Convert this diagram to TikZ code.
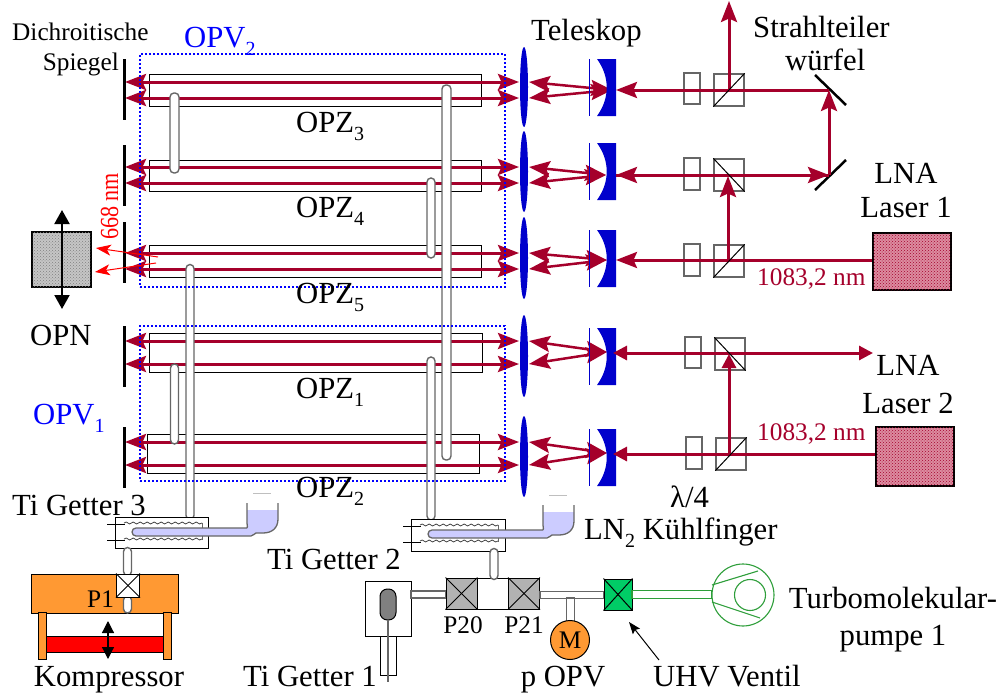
\documentclass[tikz,border=0pt]{standalone}
\usepackage{fontspec}
\setmainfont{Liberation Serif}
\usetikzlibrary{arrows.meta,decorations.pathmorphing,patterns,shapes.geometric}
\definecolor{beamred}{HTML}{A5002B}
\definecolor{optblue}{HTML}{0000CC}
\definecolor{dotblue}{HTML}{0000FF}
\definecolor{orng}{HTML}{FF9933}
\definecolor{lav}{HTML}{CCCCFF}
\definecolor{valvegreen}{HTML}{00CC66}
\definecolor{pumpgreen}{HTML}{2E9E3A}
\definecolor{valvegrey}{HTML}{B2B2B2}
\definecolor{wallgrey}{HTML}{666666}
\definecolor{laserfill}{HTML}{DC8CA0}
\newcommand{\fbig}{\fontsize{30.7}{34}\selectfont}
\newcommand{\fmid}{\fontsize{25.3}{28}\selectfont}
\newcommand{\lowsub}[1]{\raisebox{-0.27em}{\fontsize{20}{20}\selectfont #1}}
\tikzset{
  lbl/.style={inner sep=0pt,anchor=base,font=\fbig},
  lbll/.style={inner sep=0pt,anchor=base west,font=\fbig},
  lblm/.style={inner sep=0pt,anchor=base,font=\fmid},
  tube/.style={draw=black,line width=1pt,fill=white,inner sep=0pt},
  beam/.style={draw=beamred,line width=3pt},
  beamthin/.style={draw=beamred,line width=2.5pt},
  tipa/.style={-{Stealth[length=21pt,width=16pt,inset=3.5pt,color=beamred]}},
  tipb/.style={{Stealth[length=21pt,width=16pt,inset=3.5pt,color=beamred]}-{Stealth[length=21pt,width=16pt,inset=3.5pt,color=beamred]}},
  tric/.style={-{Triangle[length=14pt,width=14pt,color=beamred]}},
  pipe/.style={draw=wallgrey,line width=1.4pt,fill=white,inner sep=0pt,rounded corners=4pt},
  dotted box/.style={draw=dotblue,line width=2pt,dash pattern=on 2pt off 2pt},
  plate/.style={draw=wallgrey,line width=1.3pt,fill=white,inner sep=0pt},
  cube/.style={draw=wallgrey,line width=1.3pt,fill=white,inner sep=0pt},
  diag/.style={draw=black,line width=1pt},
  valve/.style={draw=black,line width=1pt,inner sep=0pt},
  smirror/.style={draw=black,line width=3pt},
  laser/.style={draw=black,line width=2.5pt,fill=laserfill,inner sep=0pt,postaction={pattern=crosshatch dots,pattern color=beamred}},
}
\begin{document}
\begin{tikzpicture}[x=1pt,y=-1pt]
\useasboundingbox (0,0) rectangle (1002,696);
% tubes and beams, rows
\foreach \r/\xl/\xr/\yt/\yb/\ba/\bb/\fx/\fy/\mta/\mtb/\ly/\lh/\my in {
 A/149/481/74/106/82/98/612/90/59/120/87/80/59,
 B/149/481/160/191/167/183/606/175/145/206/171.5/81/143,
 C/149/481/245/277/253/269/607/260/222/283/258/82/230,
 D/149/482/333/372/341/364/607/352/326/387/356/82/328,
 E/147/479/434/473/442/465/607/453/427/488/456.5/81/429}{
  \pgfmathsetmacro{\cx}{(\xl+\xr)/2}
  \pgfmathsetmacro{\cy}{(\yt+\yb)/2}
  \pgfmathsetmacro{\tw}{\xr-\xl}
  \pgfmathsetmacro{\th}{\yb-\yt}
  \node[tube,minimum width=\tw pt,minimum height=\th pt] (tube\r) at (\cx,\cy) {};
  \coordinate (ma\r) at (125,\ba);
  \coordinate (mb\r) at (125,\bb);
  \coordinate (la\r) at (519,\ba);
  \coordinate (lb\r) at (519,\bb);
  \coordinate (ra\r) at (529,\ba);
  \coordinate (rb\r) at (529,\bb);
  \coordinate (foc\r) at (\fx,\fy);
  \draw[beam,tipb] (ma\r) -- (la\r);
  \draw[beam,tipb] (mb\r) -- (lb\r);
  \draw[beamthin,tipb] (ra\r) -- (foc\r);
  \draw[beamthin,tipb] (rb\r) -- (foc\r);
  \coordinate (mt\r) at (124,\mta);
  \coordinate (mbm\r) at (124,\mtb);
  \draw[draw=black,line width=3pt] (mt\r) -- (mbm\r);
  \node[ellipse,fill=optblue,inner sep=0pt,minimum width=8pt,minimum height=\lh pt] (lens\r) at (524,\ly) {};
  \pgfmathsetmacro{\mya}{\my+18}
  \pgfmathsetmacro{\mye}{\my+39}
  \pgfmathsetmacro{\myc}{\my+57}
  \fill[optblue] (597,\my) .. controls (610,\mya) and (610,\mye) .. (597,\myc) -- (616,\myc) -- (616,\my) -- cycle;
  \coordinate (tl\r) at (589,\my);
  \coordinate (tm\r) at (589,\myc);
  \draw[optblue,line width=0.9pt] (tl\r) -- (tm\r);
}
% plates and cubes
\node[plate,minimum width=16pt,minimum height=31pt] (qA) at (692,88.5) {};
\node[plate,minimum width=16pt,minimum height=32pt] (qB) at (692,174) {};
\node[plate,minimum width=16pt,minimum height=32pt] (qC) at (692,260) {};
\node[plate,minimum width=16pt,minimum height=31pt] (qD) at (693,352.5) {};
\node[plate,minimum width=16pt,minimum height=32pt] (qE) at (694,453) {};
\node[cube,minimum width=30pt,minimum height=32pt] (cA) at (729,90) {};
\node[cube,minimum width=30pt,minimum height=32pt] (cB) at (729,175) {};
\node[cube,minimum width=30pt,minimum height=32pt] (cC) at (729,261) {};
\node[cube,minimum width=30pt,minimum height=32pt] (cD) at (730,354) {};
\node[cube,minimum width=30pt,minimum height=32pt] (cE) at (731,454) {};
% lasers
\node[laser,minimum width=78pt,minimum height=57pt] (las1) at (912,261.5) {};
\node[laser,minimum width=78pt,minimum height=59pt] (las2) at (915,456.5) {};
% steering mirrors
\coordinate (sm1a) at (815,75); \coordinate (sm1b) at (846,105);
\coordinate (sm2a) at (815,190); \coordinate (sm2b) at (846,160);
\draw[smirror,line width=2.5pt] (sm1a) -- (sm1b);
\draw[smirror,line width=2.5pt] (sm2a) -- (sm2b);
\coordinate (h1) at (829,90); \coordinate (h2) at (829,175);
\coordinate (out) at (729,1);
\coordinate (t1) at (616,90); \coordinate (t2) at (616,175); \coordinate (t3) at (616,260);
\coordinate (t4) at (613,353); \coordinate (t5) at (613,454);
\coordinate (bs2) at (728,176); \coordinate (bs3) at (728,260);
\coordinate (bs4) at (729,354); \coordinate (bs5) at (729,454);
\coordinate (r4) at (873,353);
% beams through optics
\draw[beam,tipa] (h1) -- (t1);
\draw[beam,tipa] (h2) -- (t2);
\draw[beam,tipa] (las1.west|-t3) -- (t3);
\draw[beam,tric] (bs5-|las2.west) -- (t5);
\draw[beam,{Triangle[length=14pt,width=14pt,color=beamred]}-{Triangle[length=14pt,width=14pt,color=beamred]}] (t4) -- (r4);
\draw[beam,tipa] (t2) -- (h2);
\draw[beam,tipa] (h2) -- (h1);
\draw[beam,tipa] (cA.center|-h1) -- (out);
\draw[beam,tipa] (bs3) -- (bs2);
\draw[beam,tric] (bs5) -- (bs4);
% cube diagonals
\draw[diag] (cA.south west) -- (cA.north east);
\draw[diag] (cB.north west) -- (cB.south east);
\draw[diag] (cC.south west) -- (cC.north east);
\draw[diag] (cD.north west) -- (cD.south east);
\draw[diag] (cE.south west) -- (cE.north east);
% OPN block
\node[draw=black,line width=1.6pt,fill=gray!45,inner sep=0pt,minimum width=59pt,minimum height=55pt,postaction={pattern=crosshatch dots,pattern color=gray}] (opn) at (61.5,259.5) {};
\coordinate (opnu) at (62,210); \coordinate (opnd) at (62,309);
\draw[black,line width=2pt,{Triangle[length=14pt,width=15pt]}-{Triangle[length=14pt,width=15pt]}] (opnu) -- (opnd);
% red 668 arrows
\coordinate (ra1) at (96,248); \coordinate (rt1) at (158,257);
\coordinate (ra2) at (95,272); \coordinate (rt2) at (156,263);
\draw[red,line width=1pt,-{Stealth[length=15pt,width=11pt,inset=4pt]}] (rt1) -- (ra1);
\draw[red,line width=1pt,-{Stealth[length=15pt,width=11pt,inset=4pt]}] (rt2) -- (ra2);
% vertical pipes
\node[pipe,minimum width=9pt,minimum height=80pt] (p1) at (174.5,133) {};
\node[pipe,minimum width=9pt,minimum height=375pt] (p2) at (446.5,272.5) {};
\node[pipe,minimum width=8pt,minimum height=80pt] (p3) at (431,218) {};
\node[pipe,minimum width=8pt,minimum height=255pt] (p4) at (190,392) {};
\node[pipe,minimum width=8pt,minimum height=80pt] (p5) at (174.5,404) {};
\node[pipe,minimum width=8pt,minimum height=163pt] (p6) at (431,438.5) {};
% dotted enclosures
\node[dotted box,inner sep=0pt,minimum width=365pt,minimum height=233pt] (opv2) at (322.5,170.5) {};
\node[dotted box,inner sep=0pt,minimum width=365pt,minimum height=155pt] (opv1) at (322.5,403.5) {};
% getters
\foreach \n/\gx/\gy/\gw/\gh in {g3/115/517/93/31, g2/411/519/94/32}{
 \begin{scope}[shift={(\gx,\gy)}]
  \node[draw=black,line width=1pt,fill=white,inner sep=0pt,anchor=north west,minimum width=\gw pt,minimum height=\gh pt] (\n) at (0,0) {};
  \draw[black,line width=0.8pt] (-8,7) -- (10,7);
  \draw[black,line width=0.8pt] (-8,23) -- (10,23);
  \draw[black!80,line width=0.7pt,decorate,decoration={snake,amplitude=1pt,segment length=7pt}] (9,6) -- (87,6);
  \draw[black!80,line width=0.7pt,decorate,decoration={snake,amplitude=1pt,segment length=7pt}] (9,22) -- (87,22);
  \draw[wallgrey,line width=0.8pt] (87,6) -- (87,23);
  % liquid nitrogen and finger
  \fill[lav] (132,-7) -- (163,-7) -- (163,2) .. controls (163,11) and (157,16) .. (148,16) -- (141,16) .. controls (139,16) and (139,19) .. (136,19) -- (21,19) arc (270:90:4pt) -- (132,11) -- cycle;
  \draw[wallgrey,line width=1.3pt] (132,11) -- (21,11) arc (90:270:4pt) -- (136,19) .. controls (139,19) and (139,16) .. (141,16) -- (148,16) .. controls (157,16) and (163,11) .. (163,2) -- (163,-14);
  \draw[wallgrey,line width=1.3pt] (132,-14) -- (132,6) .. controls (132,9) and (133,11) .. (132,11);
  \draw[gray!50,line width=0.8pt] (138,-24) -- (156,-24);
 \end{scope}
}
% compressor
\node[draw=black,line width=1pt,fill=orng,inner sep=0pt,minimum width=147pt,minimum height=39pt] (comp) at (104.5,593.5) {};
\node[draw=black,line width=1pt,fill=orng,inner sep=0pt,minimum width=8pt,minimum height=47pt] (legl) at (42.5,635.5) {};
\node[draw=black,line width=1pt,fill=orng,inner sep=0pt,minimum width=8pt,minimum height=47pt] (legr) at (167,635.5) {};
\node[draw=black,line width=1pt,fill=red,inner sep=0pt,minimum width=117pt,minimum height=16pt] (kolben) at (104.5,644) {};
\coordinate (kup) at (108,621); \coordinate (kdn) at (108,659);
\draw[black,line width=1.2pt,{Triangle[length=12pt,width=12pt]}-{Triangle[length=12pt,width=12pt]}] (kup) -- (kdn);
\node[pipe,minimum width=8pt,minimum height=28pt] (gp3) at (127.5,561.5) {};
\node[pipe,minimum width=8pt,minimum height=17pt] (gp3b) at (127.5,604.5) {};
\node[valve,fill=white,minimum width=23pt,minimum height=23pt] (p1v) at (128,585.5) {};
\draw[diag] (p1v.south west) -- (p1v.north east);
\draw[diag] (p1v.north west) -- (p1v.south east);
% Ti getter 1 and manifold
\node[draw=black,line width=1pt,fill=white,inner sep=0pt,minimum width=46pt,minimum height=55pt] (g1) at (388,608.5) {};
\node[draw=black,line width=1pt,fill=white,inner sep=0pt,minimum width=16pt,minimum height=39pt] (g1s) at (388,655.5) {};
\node[draw=black,line width=1pt,fill=gray,inner sep=0pt,rounded corners=7.5pt,minimum width=16pt,minimum height=31pt] (g1o) at (388,604.5) {};
\coordinate (g1e) at (388,682);
\draw[wallgrey,line width=1.3pt] (g1o.south) -- (g1e);
\node[draw=wallgrey,line width=1.2pt,fill=white,inner sep=0pt,minimum width=35pt,minimum height=7pt] (m1) at (428.5,594.5) {};
\node[draw=black,line width=1pt,fill=white,inner sep=0pt,minimum width=33pt,minimum height=31pt] (mid) at (492.5,593.5) {};
\node[valve,fill=valvegrey,minimum width=31pt,minimum height=31pt] (p20) at (461.5,593.5) {};
\node[valve,fill=valvegrey,minimum width=31pt,minimum height=31pt] (p21) at (524,593.5) {};
\foreach \vv in {p20,p21}{
 \draw[diag] (\vv.south west) -- (\vv.north east);
 \draw[diag] (\vv.north west) -- (\vv.south east);
}
\node[pipe,minimum width=8pt,minimum height=31pt] (gp2) at (494,564) {};
\node[draw=wallgrey,line width=1.2pt,fill=white,inner sep=0pt,minimum width=64pt,minimum height=7pt] (m2) at (572,595) {};
\node[draw=wallgrey,line width=1.2pt,fill=white,inner sep=0pt,minimum width=8pt,minimum height=24pt] (m3) at (570.5,610) {};
\node[draw=black,line width=1pt,fill=orng,circle,inner sep=0pt,minimum size=39pt] (gauge) at (570,640) {};
\node[valve,fill=valvegreen,minimum width=28pt,minimum height=31pt] (uhv) at (618,594.5) {};
\draw[diag] (uhv.south west) -- (uhv.north east);
\draw[diag] (uhv.north west) -- (uhv.south east);
\node[draw=pumpgreen,line width=1.1pt,fill=white,inner sep=0pt,minimum width=80pt,minimum height=8pt] (m4) at (672,594.5) {};
% pump
\node[draw=pumpgreen,line width=1.1pt,circle,fill=white,inner sep=0pt,minimum size=62pt] (pump) at (743,595) {};
\node[draw=pumpgreen,line width=1.1pt,circle,inner sep=0pt,minimum size=31pt] (rotor) at (750,595) {};
\coordinate (pa) at (712,585); \coordinate (pb) at (758,571);
\coordinate (pc) at (712,602); \coordinate (pd) at (760,618);
\draw[pumpgreen,line width=1.1pt] (pa) -- (pb);
\draw[pumpgreen,line width=1.1pt] (pc) -- (pd);
\coordinate (uhvp) at (659,660); \coordinate (uhvt) at (629,622);
\draw[black,line width=1pt,-{Stealth[length=12pt,width=9pt,inset=2pt]}] (uhvp) -- (uhvt);
% labels
\node[inner sep=0pt,anchor=base west,font=\fmid] (ld) at (12,40) {Dichroitische};
\node[inner sep=0pt,anchor=base east,font=\fmid] (ls) at (119,70) {Spiegel};
\node[lbll,text=dotblue] (lo2) at (184,47) {OPV\lowsub{2}};
\node[lbll] (lt) at (531,40) {Teleskop};
\node[lbll] (lst) at (753,37) {Strahlteiler};
\node[lbll] (lw) at (785,70) {würfel};
\node[lbl] (ll1) at (906,183) {LNA};
\node[lbl] (ll1b) at (906,217) {Laser 1};
\node[lbl] (ll2) at (908,375) {LNA};
\node[lbl] (ll2b) at (908,413) {Laser 2};
\node[lbll] (z3) at (296,132) {OPZ\lowsub{3}};
\node[lbll] (z4) at (296,217) {OPZ\lowsub{4}};
\node[lbll] (z5) at (296,303) {OPZ\lowsub{5}};
\node[lbll] (z1) at (296,398) {OPZ\lowsub{1}};
\node[lbll] (z2) at (296,497) {OPZ\lowsub{2}};
\node[lbll] (lopn) at (30,345) {OPN};
\node[lbll,text=dotblue] (lo1) at (33,424) {OPV\lowsub{1}};
\node[lbll] (g3t) at (12,515) {Ti Getter 3};
\node[lbll] (g2t) at (267,569) {Ti Getter 2};
\node[lbll] (g1t) at (243,686) {Ti Getter 1};
\node[lbll] (ln) at (584,539) {LN\lowsub{2} Kühlfinger};
\node[lbll] (ql) at (670,507) {λ/4};
\node[lbl] (kt) at (109,686) {Kompressor};
\node[lbl] (pop) at (563,686) {p OPV};
\node[lbll] (uv) at (653,686) {UHV Ventil};
\node[lbl] (tp) at (893,608) {Turbomolekular-};
\node[lbl] (tp2) at (893,645) {pumpe 1};
\node[lblm,anchor=base west,text=beamred] (w1) at (757,285) {1083,2 nm};
\node[lblm,anchor=base west,text=beamred] (w2) at (757,440) {1083,2 nm};
\node[lblm,anchor=base west] (tp1) at (87,607) {P1};
\node[lblm] (tp20) at (463,633) {P20};
\node[lblm] (tp21) at (524,633) {P21};
\node[lblm,anchor=center] (tm) at (gauge.center) {M};
\node[inner sep=0pt,anchor=base,rotate=90,text=red,font=\fontsize{26}{28}\selectfont] (l668) at (118,206.5) {\scalebox{0.85}[1]{668 nm}};
\end{tikzpicture}
\end{document}
